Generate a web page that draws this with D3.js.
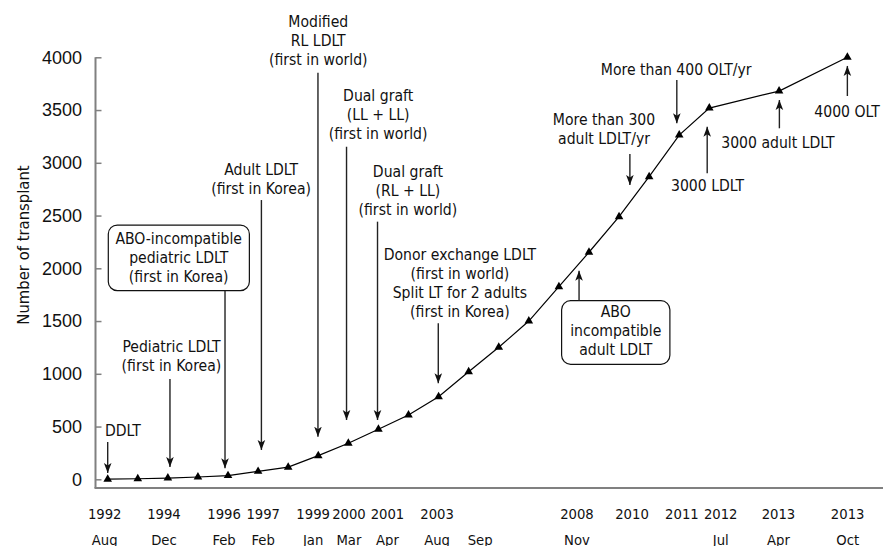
<!DOCTYPE html>
<html>
<head>
<meta charset="utf-8">
<script src="https://cdn.jsdelivr.net/npm/d3@7"></script>
<style>
body { margin: 0; background: #fff; }
svg { display: block; font-family: "DejaVu Sans Condensed", "DejaVu Sans", sans-serif; }
</style>
</head>
<body>
<svg></svg>
<script>
// position of each survey point along the (uneven) time axis, and cumulative count
const pointPos = [0, 1, 2, 3, 4, 5, 6, 7, 8, 9, 10, 11, 12, 13, 14, 15, 16, 17, 18, 19, 20, 22.32, 24.59];
const counts = [1, 5, 12, 22, 35, 75, 115, 224, 341, 474, 609, 783, 1020, 1251, 1500, 1826, 2152, 2489, 2868, 3263, 3519, 3680, 4000];

const tickPos = [-0.1, 1.87, 3.87, 5.17, 6.83, 8.02, 9.3, 10.95, 12.38, 15.6, 17.43, 19.09, 20.38, 22.3, 24.6];
const tickYear = ["1992", "1994", "1996", "1997", "1999", "2000", "2001", "2003", "", "2008", "2010", "2011", "2012", "2013", "2013"];
const tickMonth = ["Aug", "Dec", "Feb", "Feb", "Jan", "Mar", "Apr", "Aug", "Sep", "Nov", "", "", "Jul", "Apr", "Oct"];

const yTicks = [0, 500, 1000, 1500, 2000, 2500, 3000, 3500, 4000];

// milestones: text (x in axis units, y in counts), arrow from -> to
const notes = [
    { lines: ["DDLT"], tx: -0.09, ty: 458, anchor: "start", ax: 0, from: 354, to: 60 },
    { lines: ["Pediatric LDLT", "(first in Korea)"], tx: 2.12, ty: 1257, ax: 2.07, from: 951, to: 117 },
    { lines: ["ABO-incompatible", "pediatric LDLT", "(first in Korea)"], tx: 2.36, ty: 2278,
      box: [0.02, 4.71, 2410, 1788], ax: 3.9, from: 1788, to: 104 },
    { lines: ["Adult LDLT", "(first in Korea)"], tx: 5.1, ty: 2932, ax: 5.11, from: 2647, to: 278 },
    { lines: ["Modified", "RL LDLT", "(first in world)"], tx: 7.0, ty: 4337, ax: 6.99, from: 3854, to: 404 },
    { lines: ["Dual graft", "(LL + LL)", "(first in world)"], tx: 8.99, ty: 3633, ax: 7.94, from: 3153, to: 562 },
    { lines: ["Dual graft", "(RL + LL)", "(first in world)"], tx: 9.98, ty: 2916, ax: 8.97, from: 2442, to: 562 },
    { lines: ["Donor exchange LDLT", "(first in world)", "Split LT for 2 adults", "(first in Korea)"], tx: 11.71, ty: 2126,
      ax: 10.99, from: 1479, to: 910 },
    { lines: ["ABO", "incompatible", "adult LDLT"], tx: 16.89, ty: 1583,
      box: [15.09, 18.69, 1693, 1090], ax: 15.67, from: 1693, to: 1977 },
    { lines: ["More than 300", "adult LDLT/yr"], tx: 16.5, ty: 3405, ax: 17.36, from: 3083, to: 2790 },
    { lines: ["More than 400 OLT/yr"], tx: 18.9, ty: 3880, ax: 18.92, from: 3785, to: 3374 },
    { lines: ["3000 LDLT"], tx: 19.94, ty: 2780, ax: 19.93, from: 2900, to: 3342 },
    { lines: ["3000 adult LDLT"], tx: 22.28, ty: 3185, ax: 22.33, from: 3327, to: 3595 },
    { lines: ["4000 OLT"], tx: 24.58, ty: 3484, ax: 24.59, from: 3633, to: 3918 }
];

const svg = d3.select("svg")
    .attr("width", 883)
    .attr("height", 546);

const x = d3.scaleLinear().domain([0, 20]).range([107.7, 709.3]);
const y = d3.scaleLinear().domain([0, 4000]).range([479.3, 57.3]);

const axisX = 95.5;
const baseY = 488;

svg.append("defs").append("marker")
    .attr("id", "head")
    .attr("viewBox", "-10 -5 10 10")
    .attr("markerUnits", "userSpaceOnUse")
    .attr("markerWidth", 10)
    .attr("markerHeight", 10)
    .attr("refX", 0)
    .attr("refY", 0)
    .attr("orient", "auto")
    .append("path")
    .attr("d", "M0,0L-10,-3.8L-7.5,0L-10,3.8Z")
    .attr("fill", "#111");

// y axis
const yAxis = svg.append("g")
    .attr("transform", `translate(${axisX},0)`)
    .call(d3.axisLeft(y).tickValues(yTicks).tickFormat(d3.format("d"))
        .tickSizeInner(-6).tickSizeOuter(0).tickPadding(13.5));
yAxis.select(".domain").remove();
yAxis.selectAll(".tick line").attr("stroke", "#808080").attr("stroke-width", 1.5);
yAxis.selectAll(".tick text")
    .attr("font-size", 18)
    .attr("font-family", "inherit")
    .attr("fill", "#111");

svg.append("line")
    .attr("x1", axisX).attr("x2", axisX)
    .attr("y1", y(4000)).attr("y2", baseY)
    .attr("stroke", "#808080").attr("stroke-width", 2);

svg.append("text")
    .attr("transform", `translate(23,245) rotate(-90)`)
    .attr("text-anchor", "middle")
    .attr("dominant-baseline", "central")
    .attr("font-size", 16.5)
    .attr("fill", "#111")
    .text("Number of transplant");

// x axis
svg.append("line")
    .attr("x1", axisX - 1).attr("x2", 883)
    .attr("y1", baseY).attr("y2", baseY)
    .attr("stroke", "#808080").attr("stroke-width", 2);

const xt = svg.append("g").selectAll("g")
    .data(tickPos)
    .enter()
    .append("text")
    .attr("text-anchor", "middle")
    .attr("font-size", 14.7)
    .attr("fill", "#111");
xt.append("tspan")
    .attr("x", d => x(d))
    .attr("y", 518.8)
    .text((d, i) => tickYear[i]);
xt.append("tspan")
    .attr("x", d => x(d))
    .attr("y", 545)
    .text((d, i) => tickMonth[i]);

// data line
const pts = pointPos.map((p, i) => [p, counts[i]]);
svg.append("path")
    .datum(pts)
    .attr("fill", "none")
    .attr("stroke", "#000")
    .attr("stroke-width", 1.2)
    .attr("d", d3.line().x(d => x(d[0])).y(d => y(d[1])));

svg.selectAll(".pt")
    .data(pts)
    .enter()
    .append("path")
    .attr("class", "pt")
    .attr("transform", d => `translate(${x(d[0])},${y(d[1])})`)
    .attr("d", d3.symbol(d3.symbolTriangle).size(32))
    .attr("fill", "#000");

// milestones
const ng = svg.append("g");
notes.forEach(n => {
    if (n.box) {
        ng.append("rect")
            .attr("x", x(n.box[0]))
            .attr("y", y(n.box[2]))
            .attr("width", x(n.box[1]) - x(n.box[0]))
            .attr("height", y(n.box[3]) - y(n.box[2]))
            .attr("rx", 9)
            .attr("fill", "#fff")
            .attr("stroke", "#111")
            .attr("stroke-width", 1.2);
    }
    ng.append("line")
        .attr("x1", x(n.ax)).attr("x2", x(n.ax))
        .attr("y1", y(n.from)).attr("y2", y(n.to))
        .attr("stroke", "#222")
        .attr("stroke-width", 1.4)
        .attr("marker-end", "url(#head)");
    const t = ng.append("text")
        .attr("text-anchor", n.anchor || "middle")
        .attr("font-size", 15.6)
        .attr("fill", "#111");
    n.lines.forEach((s, i) => {
        t.append("tspan")
            .attr("x", x(n.tx))
            .attr("y", y(n.ty) + i * 19)
            .attr("dominant-baseline", "central")
            .text(s);
    });
});
</script>
</body>
</html>
